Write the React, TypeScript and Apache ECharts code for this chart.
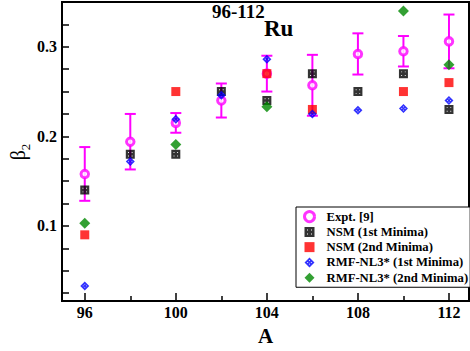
import React, { useEffect, useRef } from "react";
import * as echarts from "echarts";

// ---- data ----
const massA = [96, 98, 100, 102, 104, 106, 108, 110, 112];
const exptBeta = [0.158, 0.194, 0.215, 0.240, 0.270, 0.257, 0.292, 0.295, 0.306];
const exptErr = [0.030, 0.031, 0.011, 0.019, 0.020, 0.034, 0.023, 0.017, 0.030];
const nsm1Beta = [0.140, 0.180, 0.180, 0.250, 0.240, 0.270, 0.250, 0.270, 0.230];
const nsm2A = [96, 100, 104, 106, 110, 112];
const nsm2Beta = [0.090, 0.250, 0.270, 0.230, 0.250, 0.260];
const rmf1Beta = [0.033, 0.172, 0.219, 0.246, 0.286, 0.225, 0.229, 0.231, 0.240];
const rmf2A = [96, 100, 104, 110, 112];
const rmf2Beta = [0.103, 0.191, 0.233, 0.340, 0.280];

const xMajorTicks = [96, 100, 104, 108, 112];
const xMinorTicks = [98, 102, 106, 110];
const yTicks = [0.025, 0.05, 0.075, 0.1, 0.125, 0.15, 0.175, 0.2, 0.225, 0.25, 0.275, 0.3, 0.325];
const yLabels = [0.1, 0.2, 0.3];

const seriesNames = [
  "Expt. [9]",
  "NSM (1st Minima)",
  "NSM (2nd Minima)",
  "RMF-NL3* (1st Minima)",
  "RMF-NL3* (2nd Minima)",
];

const FONT = "'Liberation Serif', 'Times New Roman', serif";

const dottedSquare =
  "path://M0,0H10V10H0Z M2.5,2.5V3.5H3.5V2.5Z M6.5,2.5V3.5H7.5V2.5Z M2.5,6.5V7.5H3.5V6.5Z M6.5,6.5V7.5H7.5V6.5Z";
const dottedDiamond =
  "path://M5,0L10,5L5,10L0,5Z M4.5,2.8V3.6H5.5V2.8Z M4.5,6.4V7.2H5.5V6.4Z M2.8,4.5V5.5H3.6V4.5Z M6.4,4.5V5.5H7.2V4.5Z";

export default function App() {
  const ref = useRef<HTMLDivElement>(null);
  useEffect(() => {
    if (!ref.current) return;
    const chart = echarts.init(ref.current, null, { renderer: "svg" });
    const errData = massA.map((a, i) => [a, exptBeta[i] - exptErr[i], exptBeta[i] + exptErr[i]]);
    const option: any = {
      animation: false,
      backgroundColor: "#fff",
      grid: {
        left: 62,
        right: 1,
        top: 2,
        bottom: 41,
        show: true,
        borderColor: "#000",
        borderWidth: 2,
        backgroundColor: "transparent",
      },
      xAxis: [
        {
          type: "value",
          min: 95,
          max: 112.88,
          name: "A",
          nameLocation: "middle",
          nameGap: 20,
          nameTextStyle: { fontFamily: FONT, fontWeight: "bold", fontSize: 21, color: "#000" },
          axisLine: { show: false },
          splitLine: { show: false },
          axisTick: {
            show: true,
            inside: true,
            length: 8,
            customValues: xMajorTicks,
            lineStyle: { color: "#000", width: 1.5 },
          },
          axisLabel: {
            customValues: xMajorTicks,
            margin: 3,
            fontFamily: FONT,
            fontWeight: "bold",
            fontSize: 16,
            color: "#000",
          },
        },
        {
          type: "value",
          min: 95,
          max: 112.88,
          position: "bottom",
          axisLine: { show: false },
          splitLine: { show: false },
          axisLabel: { show: false },
          axisTick: {
            show: true,
            inside: true,
            length: 5,
            customValues: xMinorTicks,
            lineStyle: { color: "#000", width: 1.5 },
          },
        },
      ],
      yAxis: {
        type: "value",
        min: 0.016,
        max: 0.35,
        axisLine: { show: false },
        splitLine: { show: false },
        axisTick: {
          show: true,
          inside: true,
          length: 7,
          customValues: yTicks,
          lineStyle: { color: "#000", width: 1.5 },
        },
        axisLabel: {
          customValues: yLabels,
          margin: 5,
          formatter: (v: number) => v.toFixed(1),
          fontFamily: FONT,
          fontWeight: "bold",
          fontSize: 16,
          color: "#000",
        },
      },
      legend: {
        orient: "vertical",
        left: 296,
        top: 207,
        itemWidth: 10,
        itemHeight: 10,
        itemGap: 2,
        padding: [3, 2, 3, 7],
        borderColor: "#000",
        borderWidth: 1,
        backgroundColor: "#fff",
        textStyle: {
          fontFamily: FONT,
          fontWeight: "bold",
          fontSize: 12.7,
          lineHeight: 13.25,
          color: "#000",
          padding: [0, 0, 0, 7],
        },
        data: seriesNames.map((n, i) =>
          i === 0
            ? { name: n, itemStyle: { color: "#ffffff", borderColor: "#ff00ff", borderWidth: 3 } }
            : { name: n }
        ),
      },
      graphic: [
        {
          type: "text",
          x: 212,
          y: 11,
          style: {
            text: "96-112",
            fontFamily: FONT,
            fontWeight: "bold",
            fontSize: 19,
            fill: "#000",
            align: "left",
            verticalAlign: "middle",
          },
        },
        {
          type: "text",
          x: 264,
          y: 28,
          style: {
            text: "Ru",
            fontFamily: FONT,
            fontWeight: "bold",
            fontSize: 23,
            fill: "#000",
            align: "left",
            verticalAlign: "middle",
          },
        },
        {
          type: "text",
          x: 18,
          y: 152,
          rotation: Math.PI / 2,
          style: {
            text: "{b|β}{s|2}",
            align: "center",
            verticalAlign: "middle",
            rich: {
              b: { fontFamily: FONT, fontSize: 20, fill: "#000", verticalAlign: "bottom" },
              s: { fontFamily: FONT, fontSize: 13, fill: "#000", verticalAlign: "bottom", padding: [0, 0, -4, 0] },
            },
          },
        },
      ],
      series: [
        {
          type: "custom",
          name: "errbar",
          xAxisIndex: 0,
          data: errData,
          encode: { x: 0, y: [1, 2] },
          z: 1,
          renderItem: (params: any, api: any) => {
            const x = api.value(0);
            const lo = api.coord([x, api.value(1)]);
            const hi = api.coord([x, api.value(2)]);
            const w = 5.5;
            const style = { stroke: "#ff00ff", lineWidth: 2 };
            return {
              type: "group",
              children: [
                { type: "line", shape: { x1: lo[0], y1: lo[1], x2: hi[0], y2: hi[1] }, style },
                { type: "line", shape: { x1: lo[0] - w, y1: lo[1], x2: lo[0] + w, y2: lo[1] }, style },
                { type: "line", shape: { x1: hi[0] - w, y1: hi[1], x2: hi[0] + w, y2: hi[1] }, style },
              ],
            };
          },
        },
        {
          type: "scatter",
          name: seriesNames[0],
          z: 2,
          symbol: "circle",
          symbolSize: 7.5,
          itemStyle: { color: "#ffffff", borderColor: "#ff00ff", borderWidth: 3 },
          data: massA.map((a, i) => [a, exptBeta[i]]),
        },
        {
          type: "scatter",
          name: seriesNames[1],
          z: 3,
          symbol: dottedSquare,
          symbolSize: 9,
          itemStyle: { color: "#000" },
          data: massA.map((a, i) => [a, nsm1Beta[i]]),
        },
        {
          type: "scatter",
          name: seriesNames[2],
          z: 4,
          symbol: "rect",
          symbolSize: 9,
          itemStyle: { color: "#ff0000" },
          data: nsm2A.map((a, i) => [a, nsm2Beta[i]]),
        },
        {
          type: "scatter",
          name: seriesNames[3],
          z: 5,
          symbol: dottedDiamond,
          symbolSize: 9,
          itemStyle: { color: "#0000ff" },
          data: massA.map((a, i) => [a, rmf1Beta[i]]),
        },
        {
          type: "scatter",
          name: seriesNames[4],
          z: 6,
          symbol: "diamond",
          symbolSize: 11,
          itemStyle: { color: "#008800" },
          data: rmf2A.map((a, i) => [a, rmf2Beta[i]]),
        },
      ],
    };
    chart.setOption(option);
    return () => chart.dispose();
  }, []);
  return (
    <div
      ref={ref}
      style={{ position: "fixed", left: 0, top: 0, width: 470, height: 351 }}
    />
  );
}
